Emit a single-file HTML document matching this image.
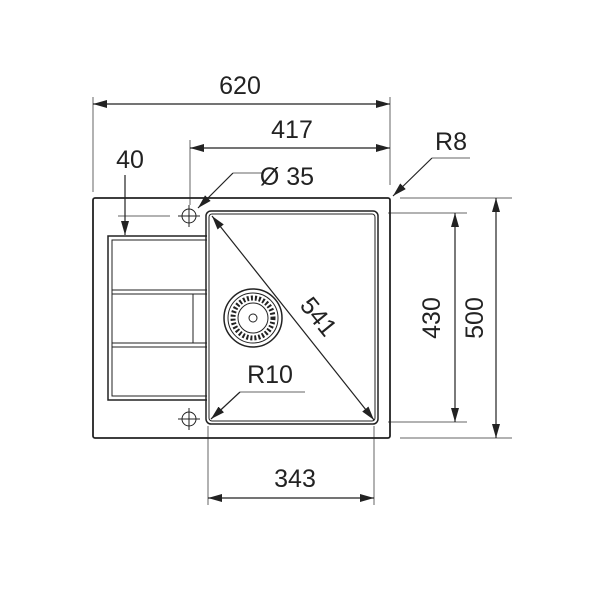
<!DOCTYPE html>
<html><head><style>body{margin:0;background:#fff}svg{display:block}</style></head><body>
<svg width="600" height="600" viewBox="0 0 600 600" xmlns="http://www.w3.org/2000/svg" font-family="Liberation Sans, sans-serif">
<defs>
<marker id="a" viewBox="0 0 14 8" refX="14" refY="4" markerWidth="14" markerHeight="8" markerUnits="userSpaceOnUse" orient="auto-start-reverse"><path d="M0,0 L14,4 L0,8 z" fill="#222"/></marker>
</defs>
<g stroke="#666" stroke-width="1" fill="none">
<line x1="93" y1="97" x2="93" y2="192"/>
<line x1="390" y1="97" x2="390" y2="185"/>
<line x1="190" y1="140" x2="190" y2="205"/>
<line x1="400" y1="198" x2="512" y2="198"/>
<line x1="388" y1="213" x2="467" y2="213"/>
<line x1="388" y1="422" x2="467" y2="422"/>
<line x1="400" y1="438" x2="512" y2="438"/>
<line x1="208" y1="426" x2="208" y2="505"/>
<line x1="374" y1="426" x2="374" y2="505"/>
<line x1="118" y1="216" x2="170" y2="216"/>
<polyline points="262,173 233,173"/>
<polyline points="470,158 432,158"/>
<polyline points="305,392 240,392"/>
</g>
<g stroke="#222" stroke-width="1.2" fill="none">
<line x1="93" y1="104" x2="390" y2="104" marker-start="url(#a)" marker-end="url(#a)"/>
<line x1="190" y1="148" x2="390" y2="148" marker-start="url(#a)" marker-end="url(#a)"/>
<line x1="455" y1="213" x2="455" y2="422" marker-start="url(#a)" marker-end="url(#a)"/>
<line x1="496" y1="198" x2="496" y2="438" marker-start="url(#a)" marker-end="url(#a)"/>
<line x1="208" y1="498" x2="374" y2="498" marker-start="url(#a)" marker-end="url(#a)"/>
<line x1="212" y1="216" x2="374" y2="420" marker-start="url(#a)" marker-end="url(#a)"/>
<line x1="125" y1="175" x2="125" y2="235" marker-end="url(#a)"/>
<line x1="233" y1="173" x2="198" y2="208" marker-end="url(#a)"/>
<line x1="432" y1="158" x2="393" y2="196" marker-end="url(#a)"/>
<line x1="240" y1="392" x2="211" y2="419" marker-end="url(#a)"/>
</g>
<g stroke="#222" fill="none">
<rect x="93" y="198" width="297" height="240" rx="2" stroke-width="1.8"/>
<rect x="206" y="211" width="172" height="213" rx="5" stroke-width="1.5"/>
<rect x="209" y="214" width="166" height="207" rx="3" stroke-width="1"/>
<path d="M207,236 H108 V400 H207" stroke-width="1.5"/>
<path d="M207,240 H112 V396 H207" stroke-width="1"/>
<line x1="112" y1="290" x2="207" y2="290"/><line x1="112" y1="294" x2="207" y2="294"/>
<line x1="112" y1="343" x2="207" y2="343"/><line x1="112" y1="347" x2="207" y2="347"/>
<line x1="193" y1="294" x2="193" y2="343"/>
<circle cx="189" cy="216" r="7"/><line x1="178" y1="216" x2="200" y2="216"/><line x1="189" y1="205" x2="189" y2="227"/>
<circle cx="189" cy="419" r="7"/><line x1="178" y1="419" x2="200" y2="419"/><line x1="189" y1="408" x2="189" y2="430"/>
<circle cx="253" cy="318" r="29" stroke-width="1.5"/>
<circle cx="253" cy="318" r="25"/>
<circle cx="253" cy="318" r="20" stroke-width="5" stroke-dasharray="2 2"/>
<circle cx="253" cy="318" r="15"/>
<circle cx="253" cy="318" r="4"/>
</g>
<g fill="#222" font-size="25" text-anchor="middle">
<text x="240" y="94">620</text>
<text x="292" y="138">417</text>
<text x="130" y="168">40</text>
<text x="287" y="185">Ø 35</text>
<text x="451" y="150">R8</text>
<text x="270" y="383">R10</text>
<text x="295" y="487">343</text>
<text transform="translate(440,318) rotate(-90)">430</text>
<text transform="translate(483,318) rotate(-90)">500</text>
<text transform="translate(312,322) rotate(51)">541</text>
</g>
</svg>
</body></html>
